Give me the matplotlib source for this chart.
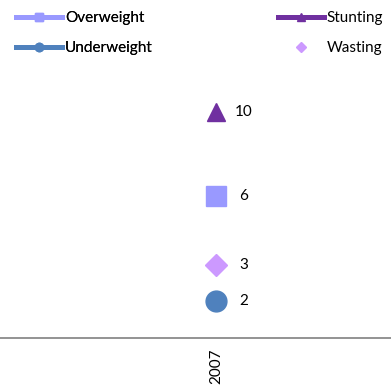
import matplotlib.pyplot as plt
from matplotlib.lines import Line2D

plt.rcParams['font.family'] = ['Lato', 'DejaVu Sans']

# --- Données ---
years = ['2007']
series = ['Overweight', 'Underweight', 'Stunting', 'Wasting']
values = [6.2, 1.6, 9.9, 3.2]
colors = ['#9999FF', '#4F81BD', '#7030A0', '#CC99FF']
markers = ['s', 'o', '^', 'D']
msizes = [15, 15, 13, 11]
show_line = [True, True, True, False]

fig = plt.figure(figsize=(3.91, 3.87), dpi=100)
ax = fig.add_axes([0.0, 0.127, 1.0, 0.62])

for name, val, col, mk, ms in zip(series, values, colors, markers, msizes):
    ax.plot([0], [val], marker=mk, color=col, markersize=ms, linestyle='none')
    ax.annotate(f"{val:.0f}", (0, val), xytext=(20, 0), textcoords='offset points',
                va='center', ha='center', fontsize=11, color='black')

ax.set_xlim(-0.552, 0.448)
ax.set_ylim(0, 10.5)
ax.set_xticks([0])
ax.set_xticklabels(years, rotation=90, fontsize=11)
ax.tick_params(axis='x', length=0, pad=8)
ax.set_yticks([])
for s in ['top', 'right', 'left']:
    ax.spines[s].set_visible(False)
ax.spines['bottom'].set_color('#808080')
ax.spines['bottom'].set_linewidth(1.2)

# --- Légende (deux colonnes placées séparément) ---
handles = []
for name, col, mk, line in zip(series, colors, markers, show_line):
    if line:
        h = Line2D([], [], color=col, linewidth=3.6, marker=mk, markersize=6, label=name)
    else:
        h = Line2D([], [], color=col, linestyle='none', marker=mk, markersize=5, label=name)
    handles.append(h)

leg_opts = dict(loc='upper left', frameon=False, fontsize=11, handlelength=3.0,
                handletextpad=0.2, labelspacing=1.03, borderpad=0, borderaxespad=0)
leg1 = fig.legend(handles=handles[:2], bbox_to_anchor=(0.041, 0.971), **leg_opts)
fig.add_artist(leg1)
fig.legend(handles=handles[2:], bbox_to_anchor=(0.711, 0.971), **leg_opts)

fig.savefig('out.png', dpi=100)
